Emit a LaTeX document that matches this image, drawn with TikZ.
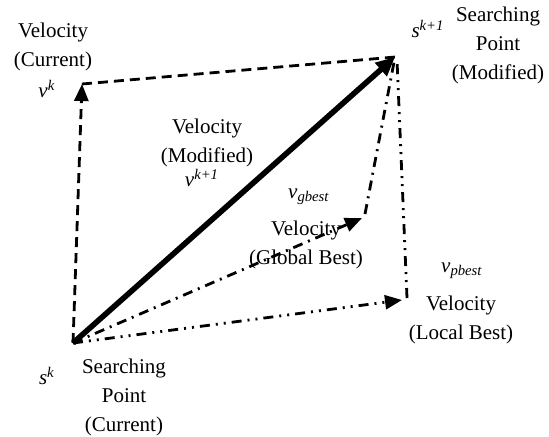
\documentclass[tikz,border=0pt]{standalone}
\usepackage{fontspec}
\setmainfont{Liberation Serif}
\usepackage{tikz}
\usetikzlibrary{arrows.meta,positioning,calc}

\newcommand{\vsym}[1]{\textit{v}\textsuperscript{\textit{#1}}}
\newcommand{\vsub}[1]{\textit{v}\textsubscript{\textit{#1}}}
\newcommand{\ssym}[1]{\textit{s}\textsuperscript{\textit{#1}}}

\begin{document}
\begin{tikzpicture}[
  x=0.5pt, y=-0.5pt,
  font=\fontsize{10.5}{14.5}\selectfont,
  lbl/.style={align=center, inner sep=0pt},
  sym/.style={inner sep=0pt},
  tip/.style={-{Triangle[length=8.5pt,width=7pt]}},
  curvel/.style={line width=1.4pt, dash pattern=on 5pt off 3pt},
  newvel/.style={line width=2.8pt, -{Triangle[length=9.5pt,width=8.5pt]}},
  gvel/.style={line width=1.4pt, dash pattern=on 5pt off 3pt on 1pt off 3pt},
  pvel/.style={line width=1.4pt, dash pattern=on 5pt off 3pt on 1pt off 3pt on 1pt off 3pt}
]
\useasboundingbox (0,0) rectangle (549,436);

% points
\coordinate (sk) at (73,343);
\coordinate (vk) at (82,84);
\coordinate (skp) at (395,57);
\coordinate (skq) at (397,60);
\coordinate (vg) at (362,218);
\coordinate (vp) at (402,300);

% velocities
\draw[curvel, tip] (sk) -- (vk);
\draw[curvel] (vk) -- (skp);
\draw[gvel, tip] (sk) -- (vg);
\draw[gvel] ($(vg)+(3,-4)$) -- (skp);
\draw[pvel, tip] (sk) -- (vp);
\draw[pvel] ($(vp)+(5,-2)$) -- (skq);
\draw[newvel] (sk) -- (skp);

% labels
\node[lbl] (curlbl) at (53,47) {Velocity\\(Current)};
\node[sym] (vklbl) at (47,89) {\vsym{k}};
\node[lbl] (modlbl) at (498,45) {Searching\\Point\\(Modified)};
\node[sym] (skplbl) at (428,29) {\ssym{k+1}};
\node[lbl] (vmodlbl) at (207,143) {Velocity\\(Modified)};
\node[sym] (vkplbl) at (202,178) {\vsym{k+1}};
\node[sym] (vglbl) at (309,197) {\vsub{gbest}};
\node[lbl] (glbl) at (306,245) {Velocity\\(Global Best)};
\node[sym] (vplbl) at (462,271) {\vsub{pbest}};
\node[lbl] (plbl) at (461,320) {Velocity\\(Local Best)};
\node[sym] (sklbl) at (47,376) {\ssym{k}};
\node[lbl] (curptlbl) at (124,397) {Searching\\Point\\(Current)};
\end{tikzpicture}
\end{document}
